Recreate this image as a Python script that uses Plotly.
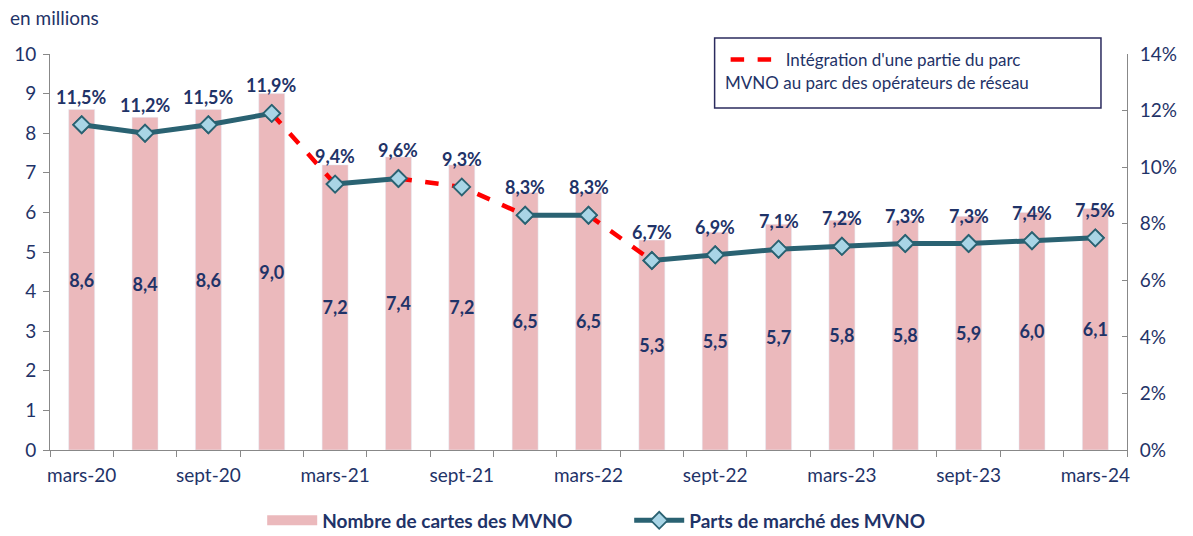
import plotly.graph_objects as go

categories = ["mars-20", "juin-20", "sept-20", "déc-20", "mars-21", "juin-21", "sept-21", "déc-21",
              "mars-22", "juin-22", "sept-22", "déc-22", "mars-23", "juin-23", "sept-23", "déc-23", "mars-24"]
cartes = [8.6, 8.4, 8.6, 9.0, 7.2, 7.4, 7.2, 6.5, 6.5, 5.3, 5.5, 5.7, 5.8, 5.8, 5.9, 6.0, 6.1]
parts = [11.5, 11.2, 11.5, 11.9, 9.4, 9.6, 9.3, 8.3, 8.3, 6.7, 6.9, 7.1, 7.2, 7.3, 7.3, 7.4, 7.5]
solid_segments = [(0, 3), (4, 5), (7, 8), (9, 16)]
dashed_segments = [(3, 4), (5, 7), (8, 9)]
tick_labels = ["mars-20", "sept-20", "mars-21", "sept-21", "mars-22", "sept-22", "mars-23", "sept-23", "mars-24"]
y_left_ticks = list(range(0, 11))
y_right_ticks = list(range(0, 15, 2))

NAVY = "#1F3368"
TEAL = "#2A6272"
PINK = "#EBB9BC"
FONT = "Lato"

xs = list(range(len(categories)))

def fr(v, d=1):
    return f"{v:.{d}f}".replace(".", ",")

def segs(segments):
    sx, sy = [], []
    for a, b in segments:
        for i in range(a, b + 1):
            sx.append(xs[i]); sy.append(parts[i])
        sx.append(None); sy.append(None)
    return sx, sy

MARKER = dict(symbol="diamond", size=13, color="#A9D5E6", line=dict(color=TEAL, width=1.8))

fig = go.Figure()

fig.add_trace(go.Bar(
    x=xs, y=cartes, name="Nombre de cartes des MVNO", marker_color=PINK, width=0.41,
    text=[fr(v) for v in cartes], textposition="inside", insidetextanchor="middle", textangle=0,
    textfont=dict(color=NAVY, size=18, family=FONT, weight="bold"), constraintext="none",
    showlegend=False, hoverinfo="skip"))

# legend key for the bars (wide rectangle as in the original)
fig.add_trace(go.Scatter(
    x=[None], y=[None], mode="lines", name="Nombre de cartes des MVNO",
    line=dict(color=PINK, width=14), legend="legend"))

sx, sy = segs(solid_segments)
fig.add_trace(go.Scatter(
    x=sx, y=sy, yaxis="y2", mode="lines+markers", name="Parts de marché des MVNO",
    line=dict(color=TEAL, width=5), connectgaps=False, marker=MARKER, legend="legend"))

dx, dy = segs(dashed_segments)
fig.add_trace(go.Scatter(
    x=dx, y=dy, yaxis="y2", mode="lines", name="Intégration d'une partie du parc",
    line=dict(color="#FF0000", width=4.5, dash="dash"), connectgaps=False, legend="legend2"))

fig.add_trace(go.Scatter(
    x=xs, y=parts, yaxis="y2", mode="markers", showlegend=False, marker=MARKER, hoverinfo="skip"))

annotations = [dict(x=xs[i], y=parts[i], xref="x", yref="y2", text=fr(parts[i]) + "%",
                    showarrow=False, yshift=28,
                    font=dict(color=NAVY, size=18, family=FONT, weight="bold"))
               for i in range(len(xs))]
annotations.append(dict(text="en millions", xref="paper", yref="paper", x=-0.039, y=1.093,
                        xanchor="left", yanchor="middle", showarrow=False,
                        font=dict(size=19, color=NAVY, family=FONT)))
annotations.append(dict(text="MVNO au parc des opérateurs de réseau", xref="paper", yref="paper",
                        x=(722 - 50) / 1076, y=(450 - 82) / 396, xanchor="left", yanchor="middle",
                        showarrow=False, font=dict(size=17, color=NAVY, family=FONT)))

fig.update_layout(
    width=1193, height=536, margin=dict(l=50, r=66, t=54, b=86, autoexpand=False),
    plot_bgcolor="white", paper_bgcolor="white",
    font=dict(family=FONT, color=NAVY, size=19),
    xaxis=dict(range=[-0.5, 16.5], tickvals=[i - 0.5 for i in range(18)], ticktext=[""] * 18,
               ticks="outside", ticklen=6, tickcolor="#888888", showline=True, linecolor="#888888",
               showgrid=False, zeroline=False, automargin=False),
    xaxis2=dict(range=[-0.5, 16.5], overlaying="x", anchor="y", side="bottom",
                tickvals=xs[::2], ticktext=tick_labels, ticks="", showline=False, showgrid=False,
                zeroline=False, tickfont=dict(size=19, color=NAVY), ticklabelstandoff=12,
                automargin=False),
    yaxis=dict(range=[0, 10], tickvals=y_left_ticks, ticks="outside", ticklen=6, tickcolor="#888888",
               showline=True, linecolor="#888888", showgrid=False, zeroline=False,
               tickfont=dict(size=19, color=NAVY), automargin=False, ticklabelstandoff=3),
    yaxis2=dict(range=[0, 14], tickvals=y_right_ticks, ticktext=[f"{v}%" for v in y_right_ticks],
                overlaying="y", side="right", ticks="inside", ticklen=5, tickcolor="#888888",
                showline=True, linecolor="#888888", showgrid=False, zeroline=False,
                tickfont=dict(size=19, color=NAVY), automargin=False, ticklabelstandoff=8),
    legend=dict(orientation="h", x=(262 - 50) / 1076, xanchor="left", y=-0.13, yanchor="top",
                font=dict(size=19, color=NAVY, family=FONT, weight="bold"), itemwidth=50,
                entrywidth=302, traceorder="normal"),
    legend2=dict(x=(725 - 50) / 1076, xanchor="left", y=(450 - 42) / 396, yanchor="top",
                 font=dict(size=17, color=NAVY, family=FONT), bgcolor="rgba(0,0,0,0)",
                 itemwidth=50),
    shapes=[dict(type="rect", xref="paper", yref="paper",
                 x0=(714 - 50) / 1076, x1=(1100 - 50) / 1076,
                 y0=(450 - 108) / 396, y1=(450 - 38) / 396,
                 line=dict(color="#2B2B5E", width=1.5), fillcolor="white", layer="below")],
    annotations=annotations,
    showlegend=True,
)
fig.add_trace(go.Scatter(x=[None], y=[None], xaxis="x2", showlegend=False, hoverinfo="skip"))

fig.write_html("out.html", config={"displayModeBar": False},
               post_script="document.body.style.margin='0';document.body.style.overflow='hidden';")
